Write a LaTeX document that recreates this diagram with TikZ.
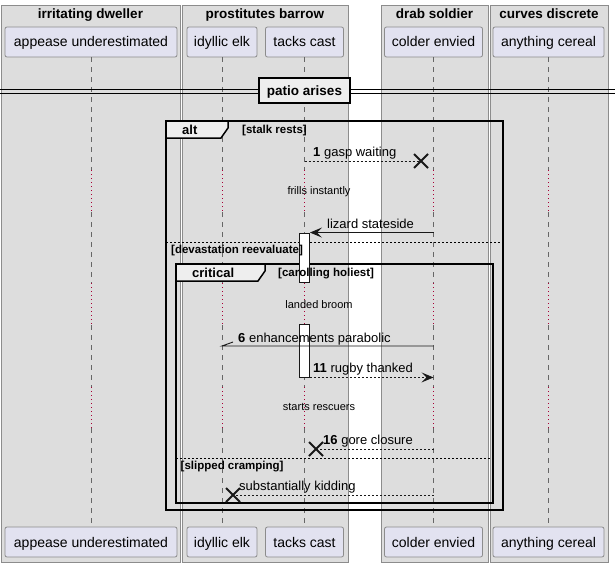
\documentclass[tikz,border=0pt]{standalone}
\usepackage{fontspec}
\setmainfont{Liberation Sans}
\usetikzlibrary{arrows.meta,shapes.misc}
\definecolor{grpbg}{HTML}{DDDDDD}
\definecolor{grpbd}{HTML}{8C8C8C}
\definecolor{partbg}{HTML}{E2E2F0}
\definecolor{partbd}{HTML}{8C8C8C}
\definecolor{lifec}{HTML}{666666}
\definecolor{delayc}{HTML}{A80036}
\definecolor{tabbg}{HTML}{EEEEEE}
\definecolor{ink}{HTML}{181818}
\begin{document}
\begin{tikzpicture}[x=1pt,y=-1pt,
 grp/.style={fill=grpbg,draw=grpbd,line width=0.8pt},
 grptitle/.style={font=\fontsize{13.5}{16}\selectfont\bfseries,anchor=base,inner sep=0},
 partbox/.style={fill=partbg,draw=partbd,line width=0.8pt,rounded corners=2pt,minimum height=30pt,inner sep=0,text height=10pt,text depth=0pt,font=\fontsize{14}{16}\selectfont},
 life/.style={draw=lifec,line width=0.8pt,dash pattern=on 5pt off 5pt},
 dly/.style={draw=delayc,line width=1pt,dash pattern=on 1pt off 3pt},
 msg/.style={draw=ink,line width=0.9pt},
 rmsg/.style={msg,dash pattern=on 2pt off 2pt},
 arrtip/.style={-{Stealth[length=12pt,width=10pt,inset=5pt]}},
 xmark/.style={cross out,draw=ink,line width=2pt,minimum size=12pt,inner sep=0},
 mlab/.style={font=\fontsize{13}{15}\selectfont,anchor=base west,inner sep=0},
 dlab/.style={font=\fontsize{11}{13}\selectfont,anchor=base,inner sep=0},
 frm/.style={draw=black,line width=1.5pt},
 tabshape/.style={fill=tabbg,draw=black,line width=1.5pt},
 ftitle/.style={font=\fontsize{13}{15}\selectfont\bfseries,anchor=base west,inner sep=0},
 guard/.style={font=\fontsize{11.5}{13}\selectfont\bfseries,anchor=base west,inner sep=0},
 elsesep/.style={draw=black,line width=0.8pt,dash pattern=on 2pt off 2pt},
 act/.style={fill=white,draw=ink,line width=0.9pt,minimum width=10pt,inner sep=0},
]
\useasboundingbox (0,0) rectangle (615,567);
\fill[white] (0,0) rectangle (615,567);
% group boxes
\draw[grp] (1,5) rectangle (180,562);
\draw[grp] (182,5) rectangle (348,562);
\draw[grp] (381,5) rectangle (488,562);
\draw[grp] (490,5) rectangle (608,562);
\node[grptitle] (g1) at (90.5,19) {irritating dweller};
\node[grptitle] (g2) at (265,19) {prostitutes barrow};
\node[grptitle] (g3) at (434.5,19) {drab soldier};
\node[grptitle] (g4) at (549,19) {curves discrete};
% participants
\node[partbox,minimum width=172pt] (pA) at (91,42) {appease underestimated};
\node[partbox,minimum width=70pt] (pI) at (222,42) {idyllic elk};
\node[partbox,minimum width=78pt] (pT) at (304.5,42) {tacks cast};
\node[partbox,minimum width=98pt] (pC) at (433.5,42) {colder envied};
\node[partbox,minimum width=111pt] (pE) at (548.5,42) {anything cereal};
\node[partbox,minimum width=172pt] (pAb) at (91,542) {appease underestimated};
\node[partbox,minimum width=70pt] (pIb) at (222,542) {idyllic elk};
\node[partbox,minimum width=78pt] (pTb) at (304.5,542) {tacks cast};
\node[partbox,minimum width=98pt] (pCb) at (433.5,542) {colder envied};
\node[partbox,minimum width=111pt] (pEb) at (548.5,542) {anything cereal};
% lifelines
\coordinate (ya) at (0,170);
\coordinate (yb) at (0,212);
\coordinate (yc) at (0,283);
\coordinate (yd) at (0,325);
\coordinate (ye) at (0,387);
\coordinate (yf) at (0,428);
\foreach \p in {pA,pI,pT,pC,pE}{
  \draw[life] (\p.south) -- (\p.south |- ya);
  \draw[dly] (\p.south |- ya) -- (\p.south |- yb);
  \draw[life] (\p.south |- yb) -- (\p.south |- yc);
  \draw[dly] (\p.south |- yc) -- (\p.south |- yd);
  \draw[life] (\p.south |- yd) -- (\p.south |- ye);
  \draw[dly] (\p.south |- ye) -- (\p.south |- yf);
  \draw[life] (\p.south |- yf) -- (\p b.north);
}
% divider
\draw[black,line width=1pt] (0,89.5) -- (615,89.5);
\draw[black,line width=1pt] (0,93.5) -- (615,93.5);
\node[draw=black,line width=1.5pt,fill=tabbg,minimum width=91pt,minimum height=25pt,inner sep=0,text height=9.5pt,text depth=0pt,font=\fontsize{13.5}{16}\selectfont\bfseries] (patio) at (304.5,90.5) {patio arises};
% frames
\draw[frm] (166,121) rectangle (503,510);
\draw[tabshape] (166,121) -- (228,121) -- (228,128) -- (221,138) -- (166,138) -- cycle;
\draw[elsesep] (166,242) -- (503,242);
\draw[frm] (176,264) rectangle (493,503);
\draw[tabshape] (176,264) -- (265,264) -- (265,271) -- (258,281) -- (176,281) -- cycle;
\draw[elsesep] (176,458) -- (493,458);
% activations
\node[act,minimum height=49pt] (a1) at (304.5,257.5) {};
\node[act,minimum height=53pt] (a2) at (304.5,350.5) {};
% frame labels
\node[ftitle] (altl) at (182,134) {alt};
\node[guard] (galt) at (242,133.5) {[stalk rests]};
\node[guard] (gdev) at (171,253.5) {[devastation reevaluate]};
\node[ftitle] (critl) at (192,277.5) {critical};
\node[guard] (gcrit) at (278,276.5) {[carolling holiest]};
\node[guard] (gslip) at (180.5,469) {[slipped cramping]};
% delays
\node[dlab] (d1) at (319,194) {frills instantly};
\node[dlab] (d2) at (319,308) {landed broom};
\node[dlab] (d3) at (319,410) {starts rescuers};
% messages
\node[xmark] (x1) at (421,161) {};
\draw[rmsg] (pT.south |- x1) -- (x1.center);
\node[mlab] (l1) at (313,156.5) {\textbf{1} gasp waiting};
\draw[msg,arrtip] (pC.south |- a1.north) -- (a1.north east);
\node[mlab] (l2) at (327,228.5) {lizard stateside};
\coordinate (y6) at (0,346);
\draw[msg] (pC.south |- y6) -- (pI.south |- y6) -- ++(11,-4);
\node[mlab] (l6) at (238,342) {\textbf{6} enhancements parabolic};
\draw[rmsg,arrtip] (a2.south east) -- (pC.south |- a2.south);
\node[mlab] (l11) at (313,372) {\textbf{11} rugby thanked};
\node[xmark] (x16) at (316,449) {};
\draw[rmsg] (pC.south |- x16) -- (x16.center);
\node[mlab] (l16) at (323,444.5) {\textbf{16} gore closure};
\node[xmark] (x20) at (233,495) {};
\draw[rmsg] (pC.south |- x20) -- (x20.center);
\node[mlab] (l20) at (239,490) {substantially kidding};
\end{tikzpicture}
\end{document}
